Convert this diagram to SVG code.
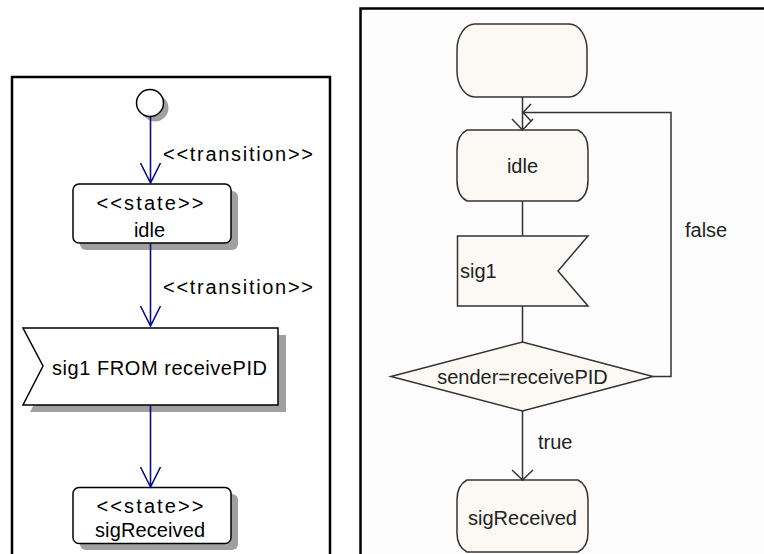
<svg xmlns="http://www.w3.org/2000/svg" width="764" height="554" viewBox="0 0 764 554">
<style>
.frame{fill:none;stroke:#000;stroke-width:2.5}
.uml{fill:#fff;stroke:#000;stroke-width:1.5}
.shadow{fill:#a0a0a0}
.lt{font-family:"Liberation Sans",Arial,sans-serif;font-size:20px;fill:#000}
.blue{stroke:#0a0a8c;stroke-width:1.6;fill:none}
.sdl{fill:#fcf9f4;stroke:#333;stroke-width:1.5}
.rt{font-family:"Liberation Sans",Arial,sans-serif;font-size:20px;fill:#222}
.gl{stroke:#333;stroke-width:1.5;fill:none}
</style>
<rect width="764" height="554" fill="#fff"/>
<!-- left panel -->
<g id="left-frame"><rect x="12" y="77" width="318" height="490" class="frame"/></g>
<g id="initial">
<circle cx="155" cy="108" r="13.5" class="shadow"/>
<circle cx="150" cy="103" r="13.5" class="uml"/>
</g>
<g id="state-idle">
<rect x="80" y="191" width="158" height="59" rx="6" class="shadow"/>
<rect x="73" y="184" width="158" height="59" rx="6" class="uml"/>
<text x="150" y="210" class="lt" text-anchor="middle" textLength="107" lengthAdjust="spacing">&lt;&lt;state&gt;&gt;</text>
<text x="149.5" y="236.5" class="lt" text-anchor="middle">idle</text>
</g>
<g id="signal-sig1">
<polygon points="30,335 286,335 286,412 30,412 50,373" class="shadow"/>
<polygon points="23,328 278,328 278,405 23,405 43,366" class="uml"/>
<text x="52" y="375" class="lt" textLength="215" lengthAdjust="spacing">sig1 FROM receivePID</text>
</g>
<g id="state-sigReceived">
<rect x="80" y="494" width="158" height="56" rx="6" class="shadow"/>
<rect x="73" y="487.5" width="158" height="56" rx="6" class="uml"/>
<text x="150" y="512.5" class="lt" text-anchor="middle" textLength="107" lengthAdjust="spacing">&lt;&lt;state&gt;&gt;</text>
<text x="150" y="537" class="lt" text-anchor="middle" textLength="110" lengthAdjust="spacing">sigReceived</text>
</g>
<g id="left-connectors">
<path d="M150.5 117 V183 M140.5 163 L150.5 183 L160.5 163" class="blue"/>
<path d="M150.5 243 V326 M140.5 306 L150.5 326 L160.5 306" class="blue"/>
<path d="M150.5 405 V487 M140.5 467 L150.5 487 L160.5 467" class="blue"/>
<text x="163" y="161" class="lt" textLength="150" lengthAdjust="spacing">&lt;&lt;transition&gt;&gt;</text>
<text x="163" y="294" class="lt" textLength="150" lengthAdjust="spacing">&lt;&lt;transition&gt;&gt;</text>
</g>
<!-- right panel -->
<g id="right-frame">
<rect x="360" y="8" width="420" height="560" fill="#fdfdfd"/>
<path d="M360.5 570 V8.5 H770" class="frame" stroke-width="3"/>
</g>
<g id="start">
<rect x="457" y="24" width="130" height="73" rx="18" ry="26" class="sdl"/>
</g>
<g id="state-idle-r">
<path d="M467 130 H578 Q588 135 588 150 V180 Q588 196 578 201 H467 Q457 196 457 180 V150 Q457 135 467 130 Z" class="sdl"/>
<text x="522.5" y="173" class="rt" text-anchor="middle">idle</text>
</g>
<g id="input-sig1">
<polygon points="457.5,236 588,236 558,271 588,306 457.5,306" class="sdl"/>
<text x="460" y="278" class="rt">sig1</text>
</g>
<g id="decision">
<polygon points="391,376.5 522.5,342 653,376.5 522.5,411" class="sdl"/>
<text x="522.5" y="384" class="rt" text-anchor="middle">sender=receivePID</text>
</g>
<g id="state-sigReceived-r">
<path d="M467 480 H578 Q588 485 588 500 V533 Q588 547 578 552 H467 Q457 547 457 533 V500 Q457 485 467 480 Z" class="sdl"/>
<text x="522.5" y="525" class="rt" text-anchor="middle">sigReceived</text>
</g>
<g id="right-connectors">
<path d="M522.5 97 V130 M512 119 L522.5 130 L533 119" class="gl"/>
<path d="M653 376.5 H671 V112.5 H522.5 M531 104 L523 112.5 L531 121" class="gl"/>
<path d="M522.5 201 V236" class="gl"/>
<path d="M522.5 306 V342" class="gl"/>
<path d="M522.5 411 V480 M512 470 L522.5 480 L533 470" class="gl"/>
<text x="685" y="237" class="rt">false</text>
<text x="538" y="449" class="rt">true</text>
</g>
</svg>
